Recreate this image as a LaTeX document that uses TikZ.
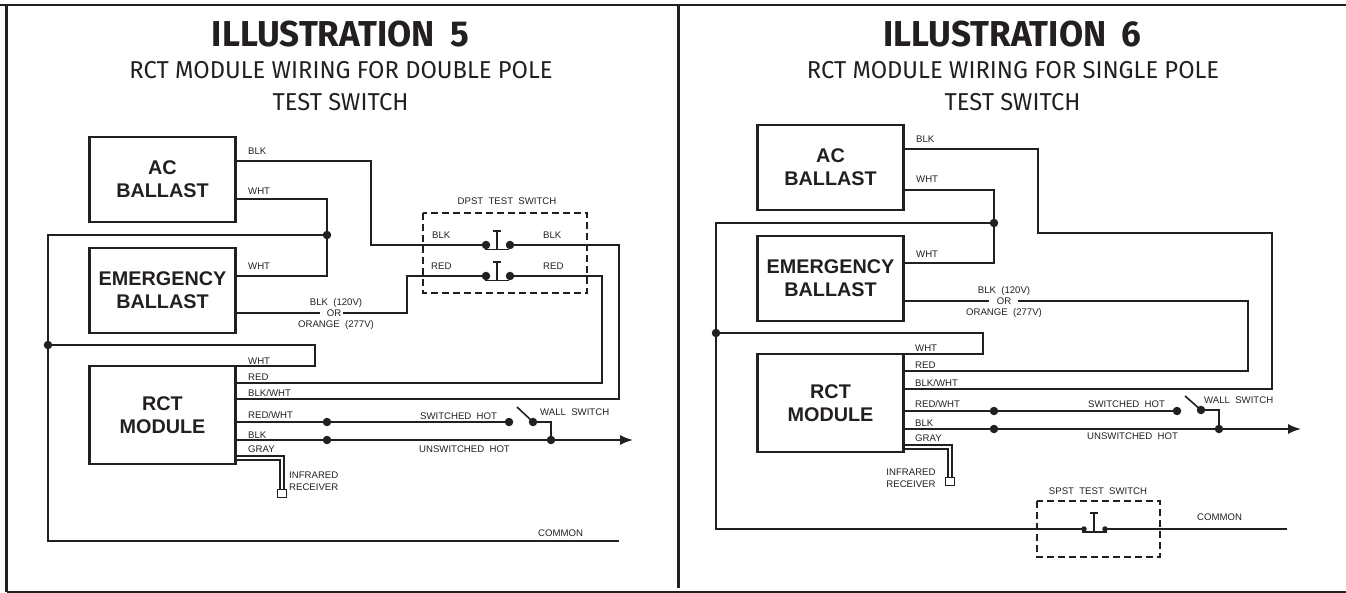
\documentclass[tikz,border=0pt]{standalone}
\usepackage{fontspec}
\setmainfont{Liberation Sans}
\newfontfamily\titlefont[FakeStretch=0.972]{Fira Sans}
\usetikzlibrary{arrows.meta}
\definecolor{ink}{HTML}{231F20}
\tikzset{
  box/.style={draw=ink,line width=2.8pt,minimum width=146.5pt,minimum height=85pt,inner sep=0pt,align=center,text=ink,font=\fontsize{19.8}{23}\selectfont\bfseries},
  wire/.style={draw=ink,line width=1.6pt,line join=miter},
  dot/.style={circle,fill=ink,draw=none,minimum size=8.5pt,inner sep=0pt},
  smalldot/.style={circle,fill=ink,draw=none,minimum size=5.5pt,inner sep=0pt},
  lbl/.style={anchor=base west,inner sep=0pt,text=ink,font=\fontsize{9.6}{11}\selectfont},
  clbl/.style={anchor=base,inner sep=0pt,text=ink,font=\fontsize{9.6}{11}\selectfont},
  ttl/.style={anchor=base,inner sep=0pt,text=ink,font=\titlefont\bfseries\fontsize{36}{40}\selectfont},
  sub/.style={anchor=base,inner sep=0pt,text=ink,font=\titlefont\fontsize{24.4}{28}\selectfont},
  dashbox/.style={draw=ink,line width=1.5pt,dash pattern=on 7pt off 4pt},
  frameline/.style={draw=ink,line width=2.8pt},
  pin/.style={draw=ink,line width=1.3pt},
  rcv/.style={draw=ink,line width=1pt,fill=white,minimum width=9.5pt,minimum height=8.5pt,inner sep=0pt},
  head/.style={-{Latex[length=13pt,width=10pt]}}
}
\newcommand{\twosp}{\ \ }
\begin{document}
\begin{tikzpicture}[x=1pt,y=-1pt]
\useasboundingbox (0,0) rectangle (1346,593);
% frame
\draw[frameline] (0,5) -- (1346,5);
\draw[frameline] (6.5,5) -- (6.5,592);
\draw[frameline,line width=2pt] (6.5,592) -- (1346,592);
\draw[frameline,line width=3pt] (678,5) -- (678,588);

% ===== LEFT =====
\node[ttl] (lt) at (340.5,47) {ILLUSTRATION\hspace{7pt} 5};
\node[sub] (ls1) at (341,79) {RCT MODULE WIRING FOR DOUBLE POLE};
\node[sub] (ls2) at (340.5,111) {TEST SWITCH};
\node[box] (lAC) at (162.5,179.5) {AC\\BALLAST};
\node[box] (lEM) at (162.5,290.5) {EMERGENCY\\BALLAST};
\node[box,minimum height=98pt] (lRC) at (162.5,415) {RCT\\MODULE};

\coordinate (la1) at (237,161);
\coordinate (la2) at (237,199);
\coordinate (le1) at (237,276);
\coordinate (le2) at (237,313);
\coordinate (le3) at (320,313);
\coordinate (le4) at (343,313);
\coordinate (lr1) at (237,366);
\coordinate (lr2) at (237,383);
\coordinate (lr3) at (237,399);
\coordinate (lr4) at (237,422);
\coordinate (lr5) at (237,440);
\coordinate (lr6) at (237,456);
\coordinate (lr7) at (237,460);
\coordinate (lc1) at (371,245);
\coordinate (lc2) at (619,245);
\coordinate (lc3) at (407,276);
\coordinate (lc4) at (602,276);
\coordinate (lc5) at (315,345);
\coordinate (lc6) at (619,541);
\coordinate (lc7) at (48,541);
\coordinate (lc8) at (48,235);
\coordinate (larrow) at (633,440);

\node[dot] (lj1) at (327,235) {};
\node[dot] (lj2) at (48,345) {};
\node[dot] (ls1a) at (486,245) {};
\node[dot] (ls1b) at (510,245) {};
\node[dot] (ls2a) at (486,276) {};
\node[dot] (ls2b) at (510,276) {};
\node[dot] (lh1) at (327,422) {};
\node[dot] (lh2) at (509,422) {};
\node[dot] (lw1) at (533,422) {};
\node[dot] (lu1) at (327,440) {};
\node[dot] (lu2) at (551,440) {};
\coordinate (lblade) at (517,407);

\draw[wire] (la1) -| (lc1) -- (ls1a.center);
\draw[wire] (ls1b.center) -- (lc2) |- (lr3);
\draw[wire] (la2) -| (lj1.center) |- (le1);
\draw[wire] (lj1.center) -| (lc8) -- (lc7) -- (lc6);
\draw[wire] (lj2.center) -| (lc5) |- (lr1);
\draw[wire] (le2) -- (le3);
\draw[wire] (le4) -| (lc3) -- (ls2a.center);
\draw[wire] (ls2b.center) -- (lc4) |- (lr2);
\draw[wire] (lr4) -- (lh2.center);
\draw[wire] (lblade) -- (lw1.center) -| (lu2.center);
\draw[wire,head] (lr5) -- (larrow);

\node[rcv] (lir) at (282,493.5) {};
\draw[wire,line width=1.2pt] (lr6) -| (lir.north -| 284,0);
\draw[wire,line width=1.2pt] (lr7) -| (lir.north -| 280,0);

% test switch plungers
\foreach \n/\y in {a/0,b/31}{
  \coordinate (lpt\n) at (497,231+\y);
  \coordinate (lpb\n) at (497,249.5+\y);
  \coordinate (lpl\n) at (485,249.5+\y);
  \coordinate (lpr\n) at (509,249.5+\y);
  \coordinate (lttl\n) at (493,231+\y);
  \coordinate (lttr\n) at (501,231+\y);
  \draw[pin] (lpt\n) -- (lpb\n);
  \draw[pin] (lpl\n) -- (lpr\n);
  \draw[pin] (lttl\n) -- (lttr\n);
}
\coordinate (ldA) at (423,213);
\coordinate (ldB) at (587,293);
\draw[dashbox] (ldA) rectangle (ldB);

\node[lbl] (l1) at (248,155) {BLK};
\node[lbl] (l2) at (248,195) {WHT};
\node[lbl] (l3) at (248,270) {WHT};
\node[clbl] (l4) at (336,306) {BLK\twosp(120V)};
\node[clbl] (l5) at (334,317) {OR};
\node[clbl] (l6) at (336,328) {ORANGE\twosp(277V)};
\node[clbl] (l7) at (507,205) {DPST\twosp TEST\twosp SWITCH};
\node[lbl] (l8) at (432,239) {BLK};
\node[lbl] (l9) at (543,239) {BLK};
\node[lbl] (l10) at (431,270) {RED};
\node[lbl] (l11) at (543,270) {RED};
\node[lbl] (l12) at (248,364) {WHT};
\node[lbl] (l13) at (248,380) {RED};
\node[lbl] (l14) at (248,396) {BLK/WHT};
\node[lbl] (l15) at (248,418) {RED/WHT};
\node[lbl] (l16) at (248,438) {BLK};
\node[lbl] (l17) at (248,452) {GRAY};
\node[lbl] (l18) at (420,419) {SWITCHED\twosp HOT};
\node[lbl] (l19) at (540,415) {WALL\twosp SWITCH};
\node[lbl] (l20) at (419,452) {UNSWITCHED\twosp HOT};
\node[lbl] (l21) at (289,478) {INFRARED};
\node[lbl] (l22) at (289,490) {RECEIVER};
\node[lbl] (l23) at (538,536) {COMMON};

% ===== RIGHT =====
\node[ttl] (rt) at (1012.5,47) {ILLUSTRATION\hspace{7pt} 6};
\node[sub] (rs1) at (1013,79) {RCT MODULE WIRING FOR SINGLE POLE};
\node[sub] (rs2) at (1012.5,111) {TEST SWITCH};
\node[box] (rAC) at (830.5,167.5) {AC\\BALLAST};
\node[box] (rEM) at (830.5,278.5) {EMERGENCY\\BALLAST};
\node[box,minimum height=98pt] (rRC) at (830.5,403) {RCT\\MODULE};

\coordinate (ra1) at (905,149);
\coordinate (ra2) at (905,190);
\coordinate (re1) at (905,263);
\coordinate (re2) at (905,301);
\coordinate (re3) at (989,301);
\coordinate (re4) at (1018,301);
\coordinate (rr1) at (905,354);
\coordinate (rr2) at (905,371);
\coordinate (rr3) at (905,389);
\coordinate (rr4) at (905,411);
\coordinate (rr5) at (905,429);
\coordinate (rr6) at (905,445);
\coordinate (rr7) at (905,449);
\coordinate (rc1) at (1038,233);
\coordinate (rc2) at (1272,233);
\coordinate (rc4) at (1248,301);
\coordinate (rc5) at (983,333);
\coordinate (rc6) at (1287,529);
\coordinate (rc7) at (716,529);
\coordinate (rc8) at (716,223);
\coordinate (rarrow) at (1301,429);

\node[dot] (rj1) at (994,223) {};
\node[dot] (rj2) at (716,333) {};
\node[dot] (rh1) at (994,411) {};
\node[dot] (rh2) at (1177,411) {};
\node[dot] (rw1) at (1201,410) {};
\node[dot] (ru1) at (994,429) {};
\node[dot] (ru2) at (1219,429) {};
\node[smalldot] (rsa) at (1084,529) {};
\node[smalldot] (rsb) at (1105,529) {};
\coordinate (rblade) at (1185,396);

\draw[wire] (ra1) -| (rc1) -| (rc2) |- (rr3);
\draw[wire] (ra2) -| (rj1.center) |- (re1);
\draw[wire] (rj1.center) -| (rc8) -- (rc7) -- (rsa.center);
\draw[wire] (rsb.center) -- (rc6);
\draw[wire] (rj2.center) -| (rc5) |- (rr1);
\draw[wire] (re2) -- (re3);
\draw[wire] (re4) -- (rc4) |- (rr2);
\draw[wire] (rr4) -- (rh2.center);
\draw[wire] (rblade) -- (rw1.center) -| (ru2.center);
\draw[wire,head] (rr5) -- (rarrow);

\node[rcv] (rir) at (950,481.5) {};
\draw[wire,line width=1.2pt] (rr6) -| (rir.north -| 952,0);
\draw[wire,line width=1.2pt] (rr7) -| (rir.north -| 948,0);

\coordinate (rpt) at (1094,513);
\coordinate (rpb) at (1094,532);
\coordinate (rpl) at (1082,532);
\coordinate (rpr) at (1107,532);
\coordinate (rttl) at (1090,513);
\coordinate (rttr) at (1098,513);
\draw[pin] (rpt) -- (rpb);
\draw[pin] (rpl) -- (rpr);
\draw[pin] (rttl) -- (rttr);
\coordinate (rdA) at (1037,501);
\coordinate (rdB) at (1160,557);
\draw[dashbox] (rdA) rectangle (rdB);

\node[lbl] (r1) at (916,143) {BLK};
\node[lbl] (r2) at (916,183) {WHT};
\node[lbl] (r3) at (916,258) {WHT};
\node[clbl] (r4) at (1004,294) {BLK\twosp(120V)};
\node[clbl] (r5) at (1004,305) {OR};
\node[clbl] (r6) at (1004,316) {ORANGE\twosp(277V)};
\node[lbl] (r12) at (915,352) {WHT};
\node[lbl] (r13) at (915,369) {RED};
\node[lbl] (r14) at (915,386) {BLK/WHT};
\node[lbl] (r15) at (915,407) {RED/WHT};
\node[lbl] (r16) at (915,426) {BLK};
\node[lbl] (r17) at (915,441) {GRAY};
\node[lbl] (r18) at (1088,407) {SWITCHED\twosp HOT};
\node[lbl] (r19) at (1204,403) {WALL\twosp SWITCH};
\node[lbl] (r20) at (1087,439) {UNSWITCHED\twosp HOT};
\node[clbl] (r21) at (911,475) {INFRARED};
\node[clbl] (r22) at (911,487) {RECEIVER};
\node[clbl] (r23) at (1098,494) {SPST\twosp TEST\twosp SWITCH};
\node[lbl] (r24) at (1197,520) {COMMON};
\end{tikzpicture}
\end{document}
